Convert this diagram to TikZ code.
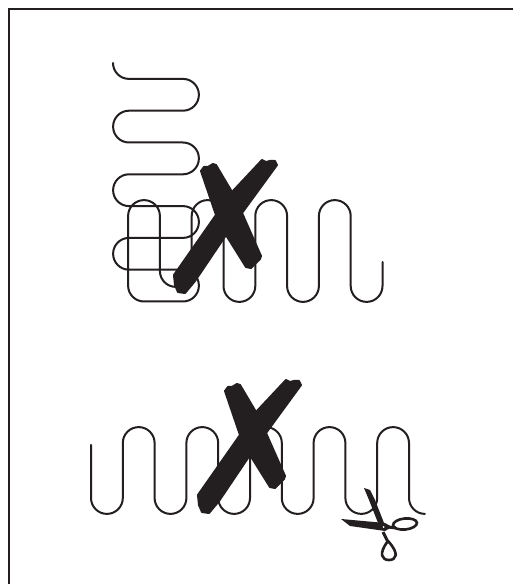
\documentclass[tikz,border=0pt]{standalone}
\usepackage{tikz}
\definecolor{inkblack}{HTML}{231F20}

\begin{document}
\begin{tikzpicture}[x=1pt,y=1pt,
    wire/.style={draw=inkblack,line width=2pt,line cap=round,line join=round},
    frameline/.style={draw=inkblack,line width=2.2pt},
    marker/.style={fill=inkblack,draw=inkblack,line width=2pt,line join=round},
    radius=15.9]
        \useasboundingbox (0,0) rectangle (513,584);
        \fill[white] (0,0) rectangle (513,584);

        % Frame: only top and left
        \draw[frameline] (8.7,0) -- (8.7,575) -- (513,575);

        % Upper wire: folded back over itself
        \draw[wire] (113,521) arc[start angle=180,end angle=270]
            -- (183,505.1) arc[start angle=90,end angle=-90]
            -- (129,473.3) arc[start angle=90,end angle=270]
            -- (183,441.5) arc[start angle=90,end angle=-90]
            -- (129,409.7) arc[start angle=90,end angle=270]
            -- (183,377.9) arc[start angle=90,end angle=-90]
            -- (129,346.1) arc[start angle=90,end angle=270]
            -- (183,314.3) arc[start angle=90,end angle=-90]
            -- (144,282.5) arc[start angle=270,end angle=180]
            -- (128.1,368) arc[start angle=180,end angle=0]
            -- (159.9,313) arc[start angle=180,end angle=360]
            -- (191.7,368) arc[start angle=180,end angle=0]
            -- (223.5,298) arc[start angle=180,end angle=360]
            -- (255.3,368) arc[start angle=180,end angle=0]
            -- (287.1,298) arc[start angle=180,end angle=360]
            -- (318.9,368) arc[start angle=180,end angle=0]
            -- (350.7,298) arc[start angle=180,end angle=360]
            -- (382.5,322);

        % Lower wire: straight run
        \draw[wire] (91,139) -- (91,86)
            \foreach \i in {1,...,5} {
              arc[start angle=180,end angle=360] -- ++(0,55)
              arc[start angle=180,end angle=0] -- ++(0,-55)
            }
            arc[start angle=180,end angle=270];

        % Crossed-out marks
        \foreach \sx/\sy in {0/0,24/-220} {
          \begin{scope}[xshift=\sx,yshift=\sy]
            \fill[marker] (201,413) -- (204,417) -- (208,417) -- (213,420) -- (216,419)
                -- (232,392) -- (242,371) -- (261,328) -- (260,325) -- (251,316) -- (246,317)
                -- (226,349) -- (216,369) -- cycle;
            \fill[marker] (262,424) -- (266,422) -- (270,423) -- (275,423) -- (277,419)
                -- (242,371) -- (226,349) -- (195,303) -- (185,291) -- (178,292) -- (175,299) -- (174,309)
                -- (216,369) -- (232,392) -- cycle;
          \end{scope}
        }

        % Scissors
        \fill[inkblack] (341,65) -- (385,61) -- (392,57) -- (385,53) -- (350,58) -- cycle;
        \fill[inkblack] (364,96) -- (370,94) -- (375,84) -- (386,56) -- (380,56) -- (369,84) -- cycle;
        \draw[inkblack,line width=3pt] (388,57) -- (396,56);
        \draw[inkblack,line width=3pt] (383,52) -- (388,42);
        \draw[inkblack,line width=2.6pt,rotate around={6:(405,60)}] (405,60) ellipse[x radius=12,y radius=5.5];
        \draw[inkblack,line width=2.6pt] (388,43) .. controls (378,30) and (382,24) .. (389,24)
            .. controls (396,24) and (400,30) .. (388,43);
        \fill[white] (383.5,57) circle[radius=1];
    \end{tikzpicture}
\end{document}
